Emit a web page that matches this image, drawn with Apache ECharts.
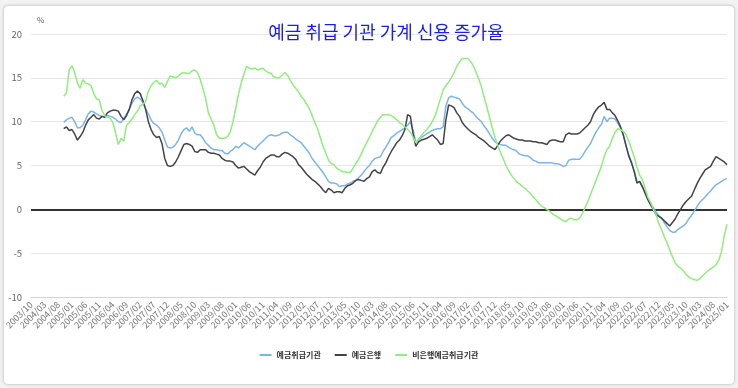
<!DOCTYPE html>
<html>
<head>
<meta charset="utf-8">
<script src="https://cdn.jsdelivr.net/npm/echarts@6/dist/echarts.min.js"></script>
<style>
  html, body { margin: 0; padding: 0; background: #f2f2f2; }
  #frame { position: absolute; left: 3px; top: 5px; width: 730px; height: 378px; background: #fff;
           border: 1px solid #d8d8d8; border-radius: 5px; box-shadow: 0 0 3px rgba(0,0,0,0.12); }
  #chart { position: absolute; left: 0; top: 0; width: 738px; height: 388px; }
</style>
</head>
<body>
<div id="frame"></div>
<div id="chart"></div>
<script>
// ---- data ----
const startYear = 2003, startMonth = 10, monthCount = 256;
const categories = [];
for (let k = 0; k < monthCount; k++) {
  const m = startMonth - 1 + k;
  const y = startYear + Math.floor(m / 12);
  const mm = (m % 12) + 1;
  categories.push(y + '/' + (mm < 10 ? '0' + mm : mm));
}
const seriesNames = ['예금취급기관', '예금은행', '비은행예금취급기관'];
const leadNulls = [null,null,null,null,null,null,null,null,null,null,null,null];

// 예금취급기관 (2004/10 ~ 2025/01)
const depositInstitutions = [
  9.9,10.2,10.4,10.5,10.0,9.3,9.3,9.6,10.2,10.9,11.2,11.1,
  10.9,10.7,10.6,10.6,10.7,10.6,10.5,10.3,10.0,9.9,10.4,10.9,
  11.4,12.1,12.6,12.8,12.6,12.2,11.5,10.9,10.2,9.8,9.6,9.3,
  8.8,7.9,7.1,7.0,7.1,7.4,7.9,8.6,9.1,9.3,8.9,9.4,
  8.7,8.5,8.5,8.1,7.6,7.3,7.0,6.8,6.8,6.7,6.7,6.4,
  6.3,6.6,6.8,7.2,7.0,7.3,7.6,7.4,7.2,7.0,6.8,7.2,
  7.5,7.8,8.1,8.4,8.5,8.4,8.4,8.5,8.7,8.8,8.8,8.5,
  8.3,8.0,7.8,7.6,7.2,6.8,6.4,5.8,5.4,5.0,4.6,4.2,
  3.7,3.2,3.0,3.0,2.9,2.6,2.7,2.7,2.9,3.0,3.2,3.3,
  3.6,3.9,4.3,4.7,5.0,5.5,5.8,5.9,6.0,6.6,7.1,7.6,
  8.2,8.4,8.7,8.9,9.1,9.3,9.6,10.0,9.0,7.6,7.9,8.2,
  8.4,8.6,8.8,9.0,9.1,9.2,9.2,9.4,11.8,12.7,12.9,12.8,
  12.7,12.6,12.1,11.7,11.5,11.2,11.0,10.6,10.3,10.0,9.5,9.1,
  8.6,8.1,7.7,7.5,7.4,7.3,7.3,7.1,6.9,6.8,6.6,6.3,
  6.2,6.1,6.1,5.9,5.6,5.5,5.3,5.3,5.3,5.3,5.3,5.3,
  5.2,5.2,5.1,4.9,5.0,5.6,5.7,5.7,5.7,5.7,6.1,6.6,
  7.1,7.5,8.2,8.8,9.3,9.7,10.6,10.0,10.4,10.4,10.3,9.8,
  9.3,8.5,7.2,6.2,5.4,4.4,3.2,3.1,2.5,2.0,1.2,0.7,
  0.2,-0.3,-0.7,-1.0,-1.5,-2.0,-2.4,-2.6,-2.6,-2.3,-2.1,-1.9,
  -1.6,-1.1,-0.7,-0.2,0.3,0.8,1.1,1.4,1.8,2.1,2.5,2.8,
  3.0,3.2,3.4,3.5
];
// 예금은행
const depositBanks = [
  9.2,9.4,9.0,9.1,8.6,7.9,8.3,8.8,9.6,10.2,10.5,10.8,
  10.4,10.3,10.6,10.5,11.0,11.2,11.3,11.3,11.2,10.6,10.2,10.7,
  11.4,12.5,13.2,13.5,13.2,12.4,11.4,10.0,9.1,8.5,8.2,8.3,
  7.5,5.8,5.0,4.9,5.0,5.4,6.0,6.7,7.4,7.5,7.4,7.2,
  6.6,6.5,6.8,6.8,6.8,6.5,6.4,6.4,6.3,6.2,5.8,5.6,
  5.5,5.5,5.4,5.0,4.7,4.8,4.9,4.6,4.3,4.1,3.9,4.4,
  4.8,5.4,5.8,6.0,6.2,6.2,6.0,6.0,6.3,6.5,6.4,6.2,
  6.0,5.7,5.1,4.8,4.4,4.0,3.7,3.4,3.2,2.9,2.6,2.2,
  1.9,2.4,2.2,1.9,2.0,2.0,1.9,2.4,2.7,2.8,3.0,3.3,
  3.4,3.3,3.2,3.5,3.7,4.3,4.5,4.2,4.1,4.8,5.3,6.0,
  6.6,7.1,7.6,7.9,8.4,9.1,10.8,10.6,8.6,7.2,7.7,7.9,
  8.0,8.1,8.3,8.5,8.2,7.9,7.4,7.5,10.2,11.9,11.8,11.6,
  11.0,10.6,9.9,9.5,9.2,8.9,8.7,8.5,8.2,8.0,7.8,7.5,
  7.2,7.0,6.8,7.3,7.8,8.1,8.4,8.5,8.3,8.1,8.0,7.9,
  7.9,7.8,7.8,7.8,7.7,7.7,7.6,7.6,7.5,7.4,7.8,7.9,
  7.9,7.8,7.7,7.7,8.5,8.7,8.6,8.6,8.6,8.7,9.0,9.3,
  9.6,10.0,10.8,11.3,11.7,11.9,12.2,11.4,11.4,11.0,10.7,10.1,
  9.4,8.5,7.3,6.1,5.3,4.3,3.0,3.2,2.6,1.8,1.1,0.5,
  0.0,-0.6,-0.8,-1.0,-1.3,-1.6,-1.9,-1.5,-1.1,-0.5,0.0,0.5,
  0.9,1.2,1.5,2.2,2.9,3.5,4.0,4.5,4.7,4.9,5.5,6.0,
  5.8,5.6,5.4,5.1
];
// 비은행예금취급기관
const nonBankInstitutions = [
  12.9,13.3,15.9,16.4,15.6,14.4,13.8,14.8,14.4,14.3,14.1,13.2,
  12.6,12.5,11.3,10.7,10.5,10.4,9.9,8.7,7.4,8.1,7.8,9.6,
  9.9,10.3,10.8,11.2,11.8,12.0,12.3,13.5,14.1,14.5,14.7,14.3,
  14.4,13.9,14.6,15.2,15.1,15.0,15.2,15.5,15.6,15.5,15.5,15.8,
  15.9,15.6,14.8,13.8,12.6,11.0,10.3,9.6,8.5,8.1,8.1,8.1,
  8.3,8.8,10.0,11.5,13.1,14.4,15.4,16.3,16.1,16.0,16.1,15.9,
  16.0,16.1,15.8,15.6,15.5,15.1,15.0,15.0,15.3,15.6,15.3,14.7,
  14.2,13.8,13.4,12.9,12.5,12.0,11.5,10.7,9.9,9.2,8.2,7.2,
  6.4,5.6,5.2,5.1,4.7,4.5,4.3,4.3,4.2,4.2,4.7,5.2,
  5.7,6.3,7.0,7.6,8.2,8.9,9.5,10.1,10.5,10.8,10.8,10.8,
  10.7,10.5,10.2,9.9,9.7,9.4,9.1,8.8,8.2,7.6,8.0,8.4,
  8.8,9.1,9.5,10.0,10.6,11.6,12.6,13.6,14.1,14.5,15.0,15.6,
  16.3,16.8,17.2,17.2,17.2,16.9,16.4,15.7,14.9,14.0,12.8,11.7,
  10.5,9.3,8.2,7.3,6.5,5.8,5.0,4.4,3.9,3.5,3.1,2.9,
  2.6,2.4,2.1,1.8,1.4,1.1,0.7,0.4,0.2,0.0,-0.2,-0.5,
  -0.7,-0.9,-1.1,-1.3,-1.4,-1.1,-1.0,-1.2,-1.2,-1.0,-0.5,0.2,
  0.9,1.7,2.5,3.3,4.1,4.9,6.0,6.8,7.2,8.1,8.8,9.2,
  9.1,8.9,8.5,7.8,6.9,6.0,4.8,3.9,3.4,2.4,1.4,0.8,
  0.0,-0.6,-1.6,-2.3,-3.1,-3.8,-4.6,-5.4,-6.1,-6.5,-6.7,-7.0,
  -7.4,-7.7,-7.9,-8.0,-8.1,-7.9,-7.6,-7.3,-7.0,-6.8,-6.6,-6.3,
  -5.8,-4.8,-3.0,-1.7
];
const yTicks = { min: -10, max: 20, interval: 5 };
const titleText = '예금 취급 기관 가계 신용 증가율';

// ---- chart ----
const chart = echarts.init(document.getElementById('chart'), null, { renderer: 'canvas' });
const font = "'Noto Sans CJK KR', 'Noto Sans', sans-serif";
const colors = ['#7cb5ec', '#434348', '#90ed7d'];
const dataSets = [depositInstitutions, depositBanks, nonBankInstitutions];

const series = seriesNames.map((name, k) => ({
  name: name,
  type: 'line',
  data: leadNulls.concat(dataSets[k]),
  showSymbol: false,
  symbol: 'none',
  connectNulls: false,
  lineStyle: { width: 1.5, color: colors[k] },
  itemStyle: { color: colors[k] },
  z: 3 + k
}));
series[0].markLine = {
  silent: true, symbol: 'none', label: { show: false },
  lineStyle: { color: '#333333', width: 2, type: 'solid' },
  data: [{ yAxis: 0 }], z: 2
};

chart.setOption({
  animation: false,
  backgroundColor: 'transparent',
  textStyle: { fontFamily: font },
  title: {
    text: titleText,
    left: 381, top: 18, textAlign: 'center',
    textStyle: { color: '#1a1ee8', fontSize: 18, fontWeight: 'normal', fontFamily: font }
  },
  legend: {
    bottom: 24, left: 'center',
    icon: 'rect', itemWidth: 12, itemHeight: 2, itemGap: 14,
    textStyle: { color: '#333', fontSize: 8, fontWeight: 'bold', fontFamily: font },
    data: seriesNames
  },
  grid: { left: 31, right: 11, top: 34, bottom: 91, containLabel: false },
  xAxis: {
    type: 'category',
    data: categories,
    boundaryGap: false,
    axisLine: { show: true, onZero: false, lineStyle: { color: '#ccd6eb', width: 1 } },
    axisTick: { show: false },
    axisLabel: { interval: 4, rotate: 45, fontSize: 9, color: '#777', margin: 6, fontFamily: font },
    splitLine: { show: false }
  },
  yAxis: {
    type: 'value',
    min: yTicks.min, max: yTicks.max, interval: yTicks.interval,
    name: '%', nameLocation: 'end', nameGap: 10,
    nameTextStyle: { color: '#666', fontSize: 8, align: 'left', padding: [0, 0, 0, 6] },
    axisLine: { show: false },
    axisTick: { show: false },
    axisLabel: { fontSize: 9.5, color: '#666', margin: 9, fontFamily: font },
    splitLine: { lineStyle: { color: '#e6e6e6', width: 1 } }
  },
  series: series
});
</script>
</body>
</html>
